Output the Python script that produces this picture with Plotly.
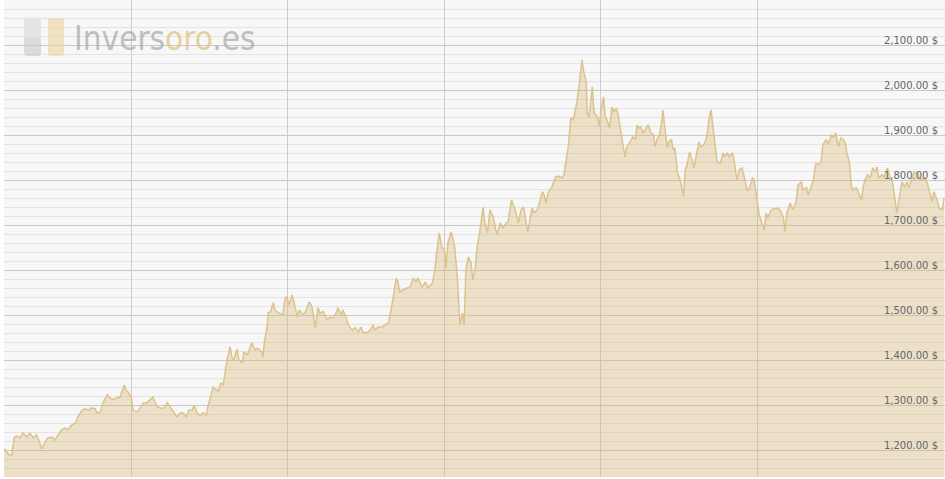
import plotly.graph_objects as go
import pandas as pd

# ---------------- data ----------------
start_date = "2018-10-01"

days = [0,6,9,12,15,19,22,27,30,34,38,41,44,48,51,56,59,63,67,71,74,79,83,86,91,94,98,102,106,108,112,115,120,123,127,131,135,137,140,142,144,148,150,155,158,162,166,170,173,178,
        181,185,190,193,197,201,205,208,212,215,219,221,224,228,231,235,237,241,243,247,249,252,255,258,260,263,265,267,271,273,277,279,283,285,288,292,295,300,301,303,306,307,310,313,315,317,321,324,327,329,331,335,337,341,343,347,350,355,358,362,365,
        367,371,376,379,383,387,388,392,394,398,400,405,408,412,415,417,422,426,429,431,435,440,443,447,450,452,456,458,460,464,469,472,476,479,481,486,490,493,498,501,503,506,509,512,514,516,520,522,524,527,528,530,533,535,537,540,543,545,548,550,
        553,557,559,562,565,569,571,573,577,580,584,586,590,592,595,598,601,604,607,609,614,616,620,622,626,628,630,633,637,641,644,649,651,653,656,659,662,664,666,669,672,674,677,678,680,684,686,690,692,694,697,699,701,704,707,709,712,714,717,720,722,724,728,731,734,736,738,
        740,743,747,749,752,755,757,759,762,765,766,769,771,773,776,778,780,783,785,788,790,792,794,797,800,802,806,808,810,814,817,820,822,824,827,829,833,836,838,841,843,847,849,852,855,858,860,864,866,870,872,876,878,881,884,886,888,892,894,899,902,906,908,910,
        914,917,921,923,927,929,933,935,938,941,944,947,950,952,956,958,962,964,967,970,973,976,978,980,983,985,987,991,993,997,999,1001,1004,1007,1010,1013,1015,1017,1021,1023,1027,1029,1033,1035,1038,1041,1044,1047,1050,1052,1056,1058,1062,1064,1067,1070,1073,1076,1079,1081,1085,1087,1091,1093]

price = [1203,1189,1189,1229,1231,1227,1238,1229,1238,1227,1234,1218,1203,1218,1227,1229,1222,1234,1245,1249,1245,1256,1260,1274,1289,1292,1289,1294,1292,1283,1285,1305,1323,1316,1312,1316,1318,1330,1345,1332,1330,1318,1289,1285,1294,1305,1305,1312,1318,1296,
         1294,1292,1305,1296,1283,1274,1283,1283,1274,1289,1289,1300,1285,1276,1283,1278,1296,1327,1340,1334,1330,1349,1345,1385,1407,1430,1405,1401,1425,1401,1394,1418,1412,1423,1439,1423,1427,1418,1407,1445,1474,1505,1508,1528,1512,1508,1505,1501,1539,1541,1523,1545,1530,1496,1512,1503,1505,1530,1519,1472,1517,
         1505,1508,1490,1496,1494,1508,1517,1501,1512,1494,1479,1467,1472,1463,1474,1463,1461,1467,1479,1467,1474,1474,1479,1483,1512,1534,1583,1574,1552,1557,1561,1563,1583,1574,1583,1563,1574,1561,1572,1601,1639,1683,1652,1646,1606,1661,1686,1668,1652,1586,1539,1479,1505,1479,1601,1630,1617,1579,1608,1652,
         1683,1741,1706,1683,1735,1719,1697,1679,1706,1695,1706,1708,1757,1746,1730,1706,1735,1741,1708,1686,1739,1728,1735,1746,1775,1768,1750,1775,1786,1808,1810,1806,1813,1839,1875,1940,1935,1957,1973,2018,2069,2042,2018,1951,1940,2009,1951,1942,1920,1957,1986,1942,1935,1917,1964,1953,1962,1946,1906,1875,1853,1875,1886,1897,1891,1924,1917,
         1920,1906,1917,1924,1906,1902,1875,1891,1902,1935,1957,1906,1873,1886,1891,1868,1873,1817,1808,1786,1764,1824,1835,1864,1846,1828,1868,1886,1875,1880,1897,1942,1957,1920,1864,1842,1839,1862,1853,1862,1853,1862,1842,1802,1824,1828,1813,1779,1779,1806,1802,1750,1724,1706,1690,1728,1717,1735,1737,1739,1735,1719,1686,1728,
         1750,1735,1753,1790,1797,1779,1784,1768,1786,1802,1839,1835,1842,1880,1891,1880,1902,1897,1906,1875,1895,1891,1884,1862,1839,1790,1779,1784,1775,1757,1786,1802,1813,1806,1828,1819,1831,1806,1813,1806,1828,1813,1797,1768,1728,1762,1797,1786,1797,1784,1806,1819,1817,1808,1802,1806,1797,1775,1753,1775,1757,1739,1735,1762]

tick_values = [1200, 1300, 1400, 1500, 1600, 1700, 1800, 1900, 2000, 2100, 2200]
tick_labels = ["1,200.00 $", "1,300.00 $", "1,400.00 $", "1,500.00 $", "1,600.00 $",
               "1,700.00 $", "1,800.00 $", "1,900.00 $", "2,000.00 $", "2,100.00 $", ""]

# ---------------- figure ----------------
W, H = 945, 479
ML, MR, MT, MB = 4, 0, 0, 2
PW, PH = W - ML - MR, H - MT - MB

start = pd.Timestamp(start_date)
dates = [start + pd.Timedelta(days=d) for d in days]

fig = go.Figure(go.Scatter(
    x=dates, y=price, mode="lines",
    line=dict(color="#dcc38e", width=1.5),
    fill="tozeroy", fillcolor="rgba(215,180,110,0.34)",
    hoverinfo="skip",
))

def px_x(px):
    return (px - ML) / PW

def px_y(py):
    return (H - MB - py) / PH

def rrect(x0, y0, x1, y1, r):
    X0, X1 = px_x(x0), px_x(x1)
    Y0, Y1 = px_y(y0), px_y(y1)  # Y0 top
    rx, ry = r / PW, r / PH
    return (f"M {X0+rx},{Y0} L {X1-rx},{Y0} Q {X1},{Y0} {X1},{Y0-ry} "
            f"L {X1},{Y1+ry} Q {X1},{Y1} {X1-rx},{Y1} L {X0+rx},{Y1} "
            f"Q {X0},{Y1} {X0},{Y1+ry} L {X0},{Y0-ry} Q {X0},{Y0} {X0+rx},{Y0} Z")

shapes = [
    dict(type="path", path=rrect(24, 18, 41, 56, 3), xref="paper", yref="paper",
         fillcolor="rgba(200,200,200,0.6)", line=dict(width=0), layer="above"),
    dict(type="path", path=rrect(24, 18, 41, 38, 3), xref="paper", yref="paper",
         fillcolor="rgba(240,240,240,0.5)", line=dict(width=0), layer="above"),
    dict(type="path", path=rrect(48, 18, 64, 56, 3), xref="paper", yref="paper",
         fillcolor="rgba(235,210,155,0.6)", line=dict(width=0), layer="above"),
]

logo = ("<span style='color:rgba(165,165,165,0.7)'>Invers</span>"
        "<span style='color:rgba(225,198,140,0.8)'>oro</span>"
        "<span style='color:rgba(165,165,165,0.7)'>.es</span>")

fig.update_layout(
    width=W, height=H,
    margin=dict(l=ML, r=MR, t=MT, b=MB),
    paper_bgcolor="white",
    plot_bgcolor="#f7f7f7",
    showlegend=False,
    shapes=shapes,
    annotations=[dict(text=logo, x=px_x(72), y=px_y(39), xref="paper", yref="paper",
                      xanchor="left", yanchor="middle", showarrow=False,
                      font=dict(family="DejaVu Sans Condensed, DejaVu Sans", size=33))],
    xaxis=dict(
        range=[start, start + pd.Timedelta(days=1094)],
        showgrid=True, gridcolor="#cdcdcd", gridwidth=1,
        tickmode="linear", tick0=start + pd.Timedelta(days=148), dtick=182 * 86400000,
        showticklabels=False, ticks="", zeroline=False, showline=False,
    ),
    yaxis=dict(
        range=[1140, 2202], side="right",
        tickmode="array", tickvals=tick_values, ticktext=tick_labels,
        ticklabelposition="inside", ticks="",
        ticklabelshift=-5, ticklabelstandoff=4,
        tickfont=dict(family="DejaVu Sans", size=10, color="#666666"),
        showgrid=True, gridcolor="#c8c8c8", gridwidth=1,
        minor=dict(tickmode="linear", tick0=0, dtick=20, showgrid=True,
                   gridcolor="#e4e4e4", gridwidth=1, ticks=""),
        zeroline=False, showline=False,
    ),
)

fig.write_html("out.html", config={"displayModeBar": False},
               post_script="document.body.style.margin='0';")
